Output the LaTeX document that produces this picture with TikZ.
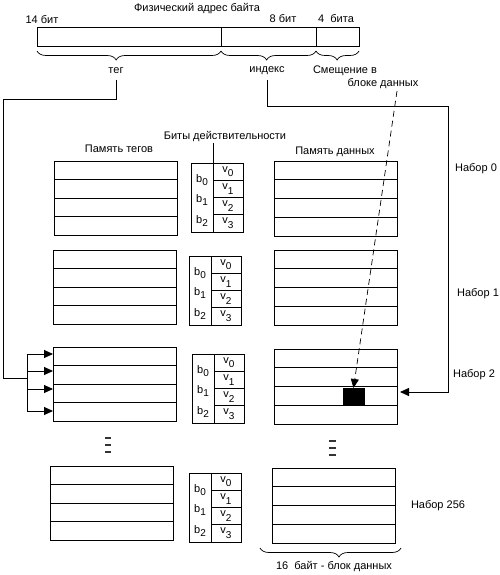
\documentclass[tikz,border=0pt]{standalone}
\usepackage{fontspec}
\setmainfont{Liberation Sans}
\usetikzlibrary{decorations.pathreplacing,arrows.meta}
\newcommand\bsub[2]{#1\raisebox{-0.45ex}{\fontsize{10}{11}\selectfont #2}}
\newcommand\vsub[2]{\raisebox{0.3ex}{#1}\raisebox{-0.5ex}{\fontsize{10}{11}\selectfont #2}}
\tikzset{
  blk/.style={draw, rectangle, inner sep=0pt, outer sep=0pt, anchor=north west},
  lbl/.style={inner sep=0pt, font=\fontsize{11}{13}\selectfont},
  conn/.style={line width=0.9pt},
  tip/.style={-{Triangle[length=9pt,width=8pt]}},
  brc/.style={decorate, decoration={brace, mirror, amplitude=9pt, #1}, line width=0.7pt},
  dots/.style={line width=1.2pt, black!80}
}
% #1 name, #2,#3 tag corner, #4,#5 valid corner, #6,#7 data corner
\newcommand\cacheset[7]{%
  \node[blk, minimum width=123pt, minimum height=74pt] (tag#1) at (#2,#3) {};
  \foreach \k in {1,2,3} \draw (#2,#3+18.5*\k) -- ++(123,0);
  \node[blk, minimum width=52pt, minimum height=69pt] (val#1) at (#4,#5) {};
  \draw (#4+22,#5) -- ++(0,69);
  \foreach \k in {1,2,3} \draw (#4+22,#5+17.25*\k) -- ++(30,0);
  \node[lbl] (b#1a) at (#4+11,#5+17) {\bsub{b}{0}};
  \node[lbl] (b#1b) at (#4+11,#5+37) {\bsub{b}{1}};
  \node[lbl] (b#1c) at (#4+11,#5+58) {\bsub{b}{2}};
  \foreach \k in {0,1,2,3}
    \node[lbl] (v#1\k) at (#4+37,#5+8.6+17.25*\k) {\vsub{v}{\k}};
  \node[blk, minimum width=123pt, minimum height=75pt] (dat#1) at (#6,#7) {};
  \foreach \k in {1,2,3} \draw (#6,#7+18.75*\k) -- ++(123,0);
}
\begin{document}
\begin{tikzpicture}[x=1pt,y=-1pt,line width=0.9pt]
\useasboundingbox (0,0) rectangle (500,575);
% address
\node[blk, minimum width=322pt, minimum height=19pt] (addr) at (37,27) {};
\draw (221,27) -- (221,46);
\draw (316,27) -- (316,46);
\node[lbl] (title) at (197,9) {Физический адрес байта};
\node[lbl] (b14) at (42,20) {14 бит};
\node[lbl] (b8) at (283,19) {8 бит};
\node[lbl] (b4) at (336,19) {4~~бита};
\draw[brc={aspect=0.43}] (37,51) -- (221,51);
\draw[brc={aspect=0.48}] (221,51) -- (316,51);
\draw[brc={aspect=0.49}] (316,51) -- (359,51);
\node[lbl] (teg) at (116,71) {тег};
\node[lbl] (idx) at (267,71) {индекс};
\node[lbl] (off1) at (345,71) {Смещение в};
\node[lbl] (off2) at (383,84) {блоке данных};
% headers
\node[lbl] (htag) at (119,149) {Память тегов};
\node[lbl] (hval) at (225,137) {Биты действительности};
\node[lbl] (hdat) at (335,152) {Память данных};
% sets
\cacheset{0}{54}{161}{191}{163}{274}{161}
\cacheset{1}{53}{250}{189}{256}{274}{250}
\cacheset{2}{53}{347}{192}{354}{274}{349}
\cacheset{3}{50}{466}{189}{473}{272}{468}
\draw (213,143) -- (val0.north -| 213,0);
\node[lbl] (s0) at (476,169) {Набор 0};
\node[lbl] (s1) at (478,294) {Набор 1};
\node[lbl] (s2) at (474,375) {Набор 2};
\node[lbl] (s3) at (438,506) {Набор 256};
% dots
\foreach \yy in {438,445,452} \draw[dots] (105,\yy) -- (111,\yy);
\foreach \yy in {441,448,455} \draw[dots] (329,\yy) -- (336,\yy);
% tag connector
\coordinate (bus) at (27,378);
\draw[conn] (teg.south |- 0,80) -- (116,99) -- (3,99) -- (3,378) -- (bus);
\draw[conn] (27,354) -- (27,411);
\foreach \yy in {354,371,389,411} \draw[conn,tip] (27,\yy) -- (53,\yy);
% index connector
\draw[conn,tip] (idx.south |- 0,80) -- (267,106) -- (448,106) -- (448,392) -- (400,392);
% black cell
\node[blk, fill=black, minimum width=21pt, minimum height=16pt] (cell) at (343,388) {};
\draw[conn,tip,dash pattern=on 6pt off 4pt,line width=0.7pt] (397,91) -- (cell.north);
% bottom brace
\draw[brc={aspect=0.56}] (260,548) -- (401,548);
\node[lbl] (blk16) at (334,567) {16~~байт - блок данных};
\end{tikzpicture}
\end{document}
